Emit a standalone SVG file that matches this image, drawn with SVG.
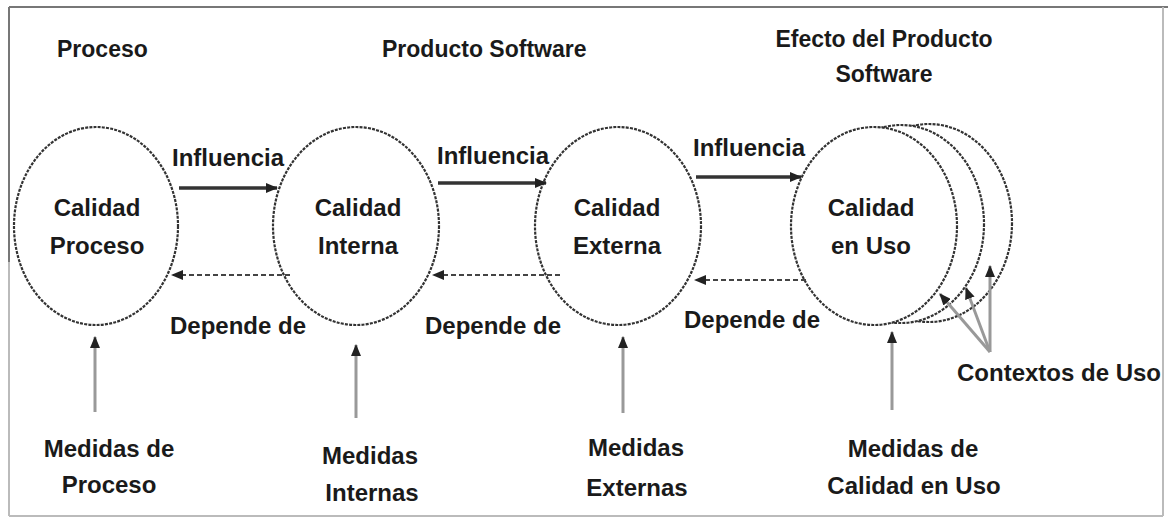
<svg xmlns="http://www.w3.org/2000/svg" width="1168" height="519" viewBox="0 0 1168 519">
<defs>
<marker id="ah" viewBox="0 0 12 10" refX="11" refY="5" markerWidth="12" markerHeight="10" markerUnits="userSpaceOnUse" orient="auto">
<path d="M0,0 L12,5 L0,10 Z" fill="#222"/>
</marker>
</defs>
<style>
.t{font-family:"Liberation Sans",Arial,sans-serif;font-weight:bold;font-size:24px;fill:#1a1a1a}
.ti{font-size:23px}
.c{text-anchor:middle}
.ell{fill:#fff;stroke:#333;stroke-width:2.2;stroke-dasharray:3 1.2}
.sol{stroke:#333;stroke-width:3.5;fill:none;marker-end:url(#ah)}
.dash{stroke:#444;stroke-width:2;stroke-dasharray:5 3;fill:none;marker-end:url(#ah)}
.vert{stroke:#999;stroke-width:3;fill:none;marker-end:url(#ah)}
</style>
<rect width="1168" height="519" fill="#fff"/>
<g id="frame">
<line x1="9" y1="7" x2="1168" y2="7" stroke="#777" stroke-width="2"/>
<line x1="9" y1="7" x2="9" y2="262" stroke="#777" stroke-width="2"/>
<line x1="9" y1="262" x2="9" y2="516" stroke="#bbb" stroke-width="2"/>
<line x1="9" y1="516" x2="1163" y2="516" stroke="#bbb" stroke-width="2"/>
<line x1="1163" y1="7" x2="1163" y2="516" stroke="#bbb" stroke-width="2"/>
</g>
<g id="titles">
<text class="t ti" x="57" y="57">Proceso</text>
<text class="t ti" x="382" y="57">Producto Software</text>
<text class="t ti c" x="884" y="47">Efecto del Producto</text>
<text class="t ti c" x="884" y="82">Software</text>
</g>
<g id="contextos">
<ellipse class="ell" cx="929" cy="223" rx="83" ry="99"/>
<ellipse class="ell" cx="901" cy="224" rx="83" ry="99"/>
</g>
<g id="calidad-proceso">
<ellipse class="ell" cx="96" cy="226" rx="82" ry="99"/>
<text class="t c" x="97" y="216">Calidad</text>
<text class="t c" x="97" y="254">Proceso</text>
</g>
<g id="calidad-interna">
<ellipse class="ell" cx="356" cy="226" rx="83" ry="99"/>
<text class="t c" x="358" y="216">Calidad</text>
<text class="t c" x="358" y="254">Interna</text>
</g>
<g id="calidad-externa">
<ellipse class="ell" cx="618" cy="226" rx="83" ry="99"/>
<text class="t c" x="617" y="216">Calidad</text>
<text class="t c" x="617" y="254">Externa</text>
</g>
<g id="calidad-uso">
<ellipse class="ell" cx="874" cy="226" rx="83" ry="99"/>
<text class="t c" x="871" y="216">Calidad</text>
<text class="t c" x="871" y="254">en Uso</text>
</g>
<g id="medidas-proceso">
<text class="t c" x="109" y="457">Medidas de</text>
<text class="t c" x="109" y="493">Proceso</text>
</g>
<g id="medidas-internas">
<text class="t c" x="370" y="464">Medidas</text>
<text class="t c" x="372" y="501">Internas</text>
</g>
<g id="medidas-externas">
<text class="t c" x="636" y="456">Medidas</text>
<text class="t c" x="637" y="496">Externas</text>
</g>
<g id="medidas-uso">
<text class="t c" x="913" y="457">Medidas de</text>
<text class="t c" x="914" y="494">Calidad en Uso</text>
</g>
<g id="contextos-label">
<text class="t" x="957" y="381">Contextos de Uso</text>
</g>
<g id="connectors">
<line class="sol" x1="179" y1="188" x2="277" y2="188"/>
<line class="sol" x1="438" y1="183" x2="546" y2="183"/>
<line class="sol" x1="696" y1="177" x2="801" y2="177"/>
<line class="dash" x1="290" y1="275" x2="172" y2="275"/>
<line class="dash" x1="560" y1="275" x2="433" y2="275"/>
<line class="dash" x1="806" y1="280" x2="695" y2="280"/>
<line class="vert" x1="95" y1="412" x2="95" y2="337"/>
<line class="vert" x1="356" y1="418" x2="356" y2="345"/>
<line class="vert" x1="623" y1="413" x2="623" y2="337"/>
<line class="vert" x1="892" y1="410" x2="892" y2="332"/>
<line class="vert" x1="990" y1="352" x2="940" y2="294"/>
<line class="vert" x1="990" y1="352" x2="966" y2="288"/>
<line class="vert" x1="990" y1="352" x2="990" y2="266"/>
<text class="t" x="172" y="166">Influencia</text>
<text class="t" x="437" y="164">Influencia</text>
<text class="t" x="693" y="156">Influencia</text>
<text class="t" x="170" y="334">Depende de</text>
<text class="t" x="425" y="334">Depende de</text>
<text class="t" x="684" y="328">Depende de</text>
</g>
</svg>
